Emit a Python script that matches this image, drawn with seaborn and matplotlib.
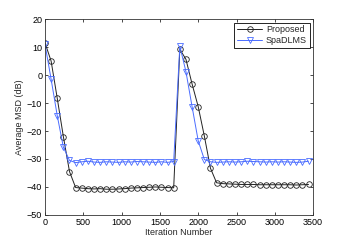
import numpy as np
import pandas as pd
import seaborn as sns
import matplotlib
matplotlib.use("Agg")
import matplotlib.pyplot as plt

# iterations at which markers were drawn
iters = list(range(0, 3500, 80))

proposed = [11.5, 5.0, -8.3, -22.0, -34.5, -40.2, -40.4, -40.6, -40.7, -40.6, -40.8,
            -40.8, -40.7, -40.6, -40.4, -40.3, -40.2, -40.1, -40.0, -40.1, -40.2, -40.3,
            9.2, 5.6, -3.2, -11.3, -21.8, -33.3, -38.5, -38.8, -38.9, -39.0, -39.1,
            -39.1, -39.1, -39.2, -39.2, -39.2, -39.2, -39.2, -39.2, -39.3, -39.2, -39.1]

spadlms = [11.0, -1.5, -14.5, -25.8, -30.5, -31.3, -31.0, -30.8, -31.1, -31.2, -31.0,
           -31.1, -31.2, -31.0, -31.1, -30.9, -31.0, -31.1, -31.2, -31.0, -31.2, -30.9,
           10.3, 1.2, -11.3, -23.5, -30.2, -31.0, -31.2, -31.1, -31.0, -31.1, -31.0,
           -30.8, -30.9, -31.0, -31.1, -31.0, -31.1, -31.0, -31.1, -31.2, -31.1, -30.8]

xticks = [0, 500, 1000, 1500, 2000, 2500, 3000, 3500]
yticks = [-50, -40, -30, -20, -10, 0, 10, 20]

sns.set_style("ticks")
plt.rcParams['font.family'] = ['Liberation Sans', 'DejaVu Sans']
plt.rcParams['font.size'] = 6.5

fig = plt.figure(figsize=(3.46, 2.41), dpi=100)
ax = fig.add_axes([0.130, 0.108, 0.775, 0.813])

blue = '#4a6cff'
sns.lineplot(x=iters, y=proposed, ax=ax, color='#222222', lw=0.7, marker='o',
             markersize=4, markerfacecolor='none', markeredgecolor='#222222',
             markeredgewidth=0.6, label='Proposed')
sns.lineplot(x=iters, y=spadlms, ax=ax, color=blue, lw=0.7, marker='v',
             markersize=4.2, markerfacecolor='none', markeredgecolor=blue,
             markeredgewidth=0.6, label='SpaDLMS')

ax.set_xlim(0, 3500)
ax.set_ylim(-50, 20)
ax.set_xticks(xticks)
ax.set_yticks(yticks)
ax.set_yticklabels([str(t).replace('-', '\u2212') for t in yticks])
ax.tick_params(direction='in', top=True, right=True, length=2.5, width=0.5,
               labelsize=6.5, pad=2, colors='black')
for s in ax.spines.values():
    s.set_visible(True)
    s.set_linewidth(0.6)
    s.set_color('#333333')

ax.set_xlabel('Iteration Number', fontsize=6.5, labelpad=1)
ax.set_ylabel('Average MSD (dB)', fontsize=6.5, labelpad=2)

leg = ax.legend(loc='upper right', fontsize=6.5, fancybox=False, framealpha=1,
                edgecolor='black', borderpad=0.3, handlelength=2.8,
                handletextpad=0.4, labelspacing=0.2, borderaxespad=0.4)
leg.get_frame().set_linewidth(0.6)

fig.savefig('out.png', dpi=100)
